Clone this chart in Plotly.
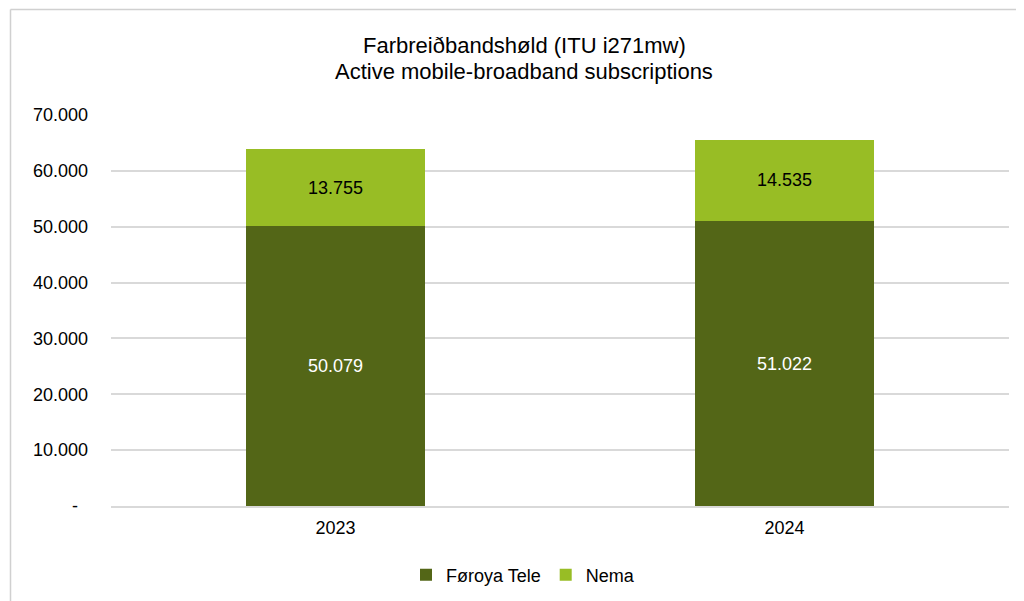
import plotly.graph_objects as go

years = ["2023", "2024"]
foroya_tele = [50079, 51022]
nema = [13755, 14535]
y_ticks = [0, 10000, 20000, 30000, 40000, 50000, 60000, 70000]
y_ticktext = ["-\u00a0\u00a0", "10.000", "20.000", "30.000", "40.000", "50.000", "60.000", "70.000"]
title_lines = ["Farbreiðbandshøld (ITU i271mw)", "Active mobile-broadband subscriptions"]

# page is offset by the body margin (8px); work in page pixels
OFF = 8
W, H = 1024 - OFF, 601 - OFF
L, R, T, B = 111 - OFF, 15, 115 - OFF, 95
pw, ph = W - L - R, H - T - B

def px_x(p):
    return (p - OFF - L) / pw

def px_y(p):
    return (H - B - (p - OFF)) / ph

FONT = "Liberation Sans, Arial"

fig = go.Figure()
fig.add_trace(go.Bar(
    x=years, y=foroya_tele, name="Føroya Tele",
    marker=dict(color="#536617", line=dict(width=0)),
    texttemplate="%{y:,d}", textposition="inside", insidetextanchor="middle",
    textfont=dict(color="white", size=18, family=FONT),
))
fig.add_trace(go.Bar(
    x=years, y=nema, name="Nema",
    marker=dict(color="#98bd25", line=dict(width=0)),
    texttemplate="%{y:,d}", textposition="inside", insidetextanchor="middle",
    textfont=dict(color="black", size=18, family=FONT),
))

annotations = [
    dict(text=title_lines[0], x=px_x(524), y=px_y(45), xref="paper", yref="paper",
         xanchor="center", yanchor="middle", showarrow=False, font=dict(size=22, color="#000")),
    dict(text=title_lines[1], x=px_x(524), y=px_y(71), xref="paper", yref="paper",
         xanchor="center", yanchor="middle", showarrow=False, font=dict(size=22, color="#000")),
]

border = dict(color="#d0d0d0", width=1.5)
fig.update_layout(
    width=W, height=H,
    barmode="stack", bargap=0.6,
    separators=",.",
    plot_bgcolor="white", paper_bgcolor="white",
    margin=dict(l=L, r=R, t=T, b=B, autoexpand=False),
    font=dict(family=FONT, size=18, color="#000000"),
    annotations=annotations,
    legend=dict(
        orientation="h", x=px_x(523), xanchor="center",
        y=px_y(575), yanchor="middle",
        font=dict(size=18), itemwidth=30, traceorder="normal",
    ),
    uniformtext=dict(mode="show", minsize=18),
    shapes=[
        dict(type="line", xref="paper", yref="paper",
             x0=px_x(10.5), x1=px_x(1030), y0=px_y(9.5), y1=px_y(9.5), line=border, layer="below"),
        dict(type="line", xref="paper", yref="paper",
             x0=px_x(10.5), x1=px_x(10.5), y0=px_y(9.5), y1=px_y(610), line=border, layer="below"),
    ],
)
fig.update_xaxes(showgrid=False, showline=True, linecolor="#d9d9d9", linewidth=1.5,
                 ticks="", tickfont=dict(size=18), ticklabelstandoff=5)
fig.update_yaxes(range=[0, 70000], tickvals=y_ticks, ticktext=y_ticktext,
                 showgrid=True, gridcolor="#d9d9d9", gridwidth=1.5,
                 zeroline=False, showline=False, ticks="",
                 tickfont=dict(size=18), ticklabelstandoff=22)

fig.write_html("out.html")
